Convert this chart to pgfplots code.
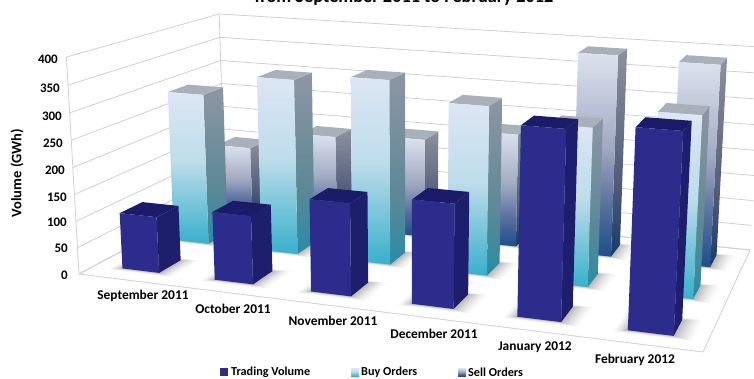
\documentclass[border=0pt]{standalone}
\usepackage{pgfplots}
\pgfplotsset{compat=1.18}
\usepackage{fontspec}
\setmainfont{Carlito}

\definecolor{gridc}{HTML}{CFCFCF}
\definecolor{tradeFront}{HTML}{2B2C8C}
\definecolor{tradeSide}{HTML}{1E1F6C}
\definecolor{tradeTop}{HTML}{1B1B6A}
\definecolor{lightTop}{HTML}{A9B0BA}
\definecolor{buyA}{RGB}{56,176,204}
\definecolor{buyB}{RGB}{128,200,220}
\definecolor{buyC}{RGB}{190,220,234}
\definecolor{buyD}{RGB}{222,230,244}
\definecolor{buySideA}{RGB}{40,140,165}
\definecolor{buySideB}{RGB}{90,136,150}
\definecolor{buySideC}{RGB}{142,150,163}
\definecolor{sellA}{RGB}{30,78,140}
\definecolor{sellB}{RGB}{90,112,160}
\definecolor{sellC}{RGB}{162,170,194}
\definecolor{sellD}{RGB}{220,226,238}
\definecolor{sellSideA}{RGB}{20,58,110}
\definecolor{sellSideB}{RGB}{80,90,120}
\definecolor{sellSideC}{RGB}{140,146,158}

% Face shadings: the stops from 25bp to 75bp span the height of a face
\pgfdeclareverticalshading{buyfront}{100bp}{
  color(0bp)=(buyA); color(25bp)=(buyA); color(40bp)=(buyB);
  color(52bp)=(buyC); color(75bp)=(buyD); color(100bp)=(buyD)}
\pgfdeclareverticalshading{buyside}{100bp}{
  color(0bp)=(buySideA); color(25bp)=(buySideA); color(42bp)=(buySideB);
  color(75bp)=(buySideC); color(100bp)=(buySideC)}
\pgfdeclareverticalshading{sellfront}{100bp}{
  color(0bp)=(sellA); color(25bp)=(sellA); color(38bp)=(sellB);
  color(52bp)=(sellC); color(75bp)=(sellD); color(100bp)=(sellD)}
\pgfdeclareverticalshading{sellside}{100bp}{
  color(0bp)=(sellSideA); color(25bp)=(sellSideA); color(42bp)=(sellSideB);
  color(75bp)=(sellSideC); color(100bp)=(sellSideC)}

% Perspective projection of a point of the chart box: u along the months,
% v along the rows and w up the volume scale, each from 0 to 1
\newcommand{\projpt}[4]{%
  \pgfmathsetmacro{\pden}{1-0.12933*(#2)+0.20015*(#3)-0.0365*(#4)}%
  \pgfmathsetmacro{\pxv}{(533.08*(#2)+191.03*(#3)-15*(#4)+79)/\pden}%
  \pgfmathsetmacro{\pyv}{(32.48*(#2)-38.77*(#3)-219*(#4)+274)/\pden}%
  \expandafter\xdef\csname chartpt#1\endcsname{(\pxv,\pyv)}%
}
\newcommand{\cpt}[1]{\csname chartpt#1\endcsname}
\newcommand{\face}[5]{%
  \edef\facecmd{\noexpand\addplot[\unexpanded{#1},forget plot]
    coordinates {\cpt{#2} \cpt{#3} \cpt{#4} \cpt{#5}} -- cycle;}%
  \facecmd
}
% Soft contact shadow on the floor around a bar foot
\newcommand{\shadowlayer}[4]{%
  \pgfmathsetmacro{\shL}{(#1+0.5)/6-0.0335-#3*0.8}%
  \pgfmathsetmacro{\shR}{(#1+0.5)/6+0.0335+#3*1.2}%
  \pgfmathsetmacro{\shF}{(#2+0.5)/3-0.07-#3*1.0}%
  \pgfmathsetmacro{\shB}{(#2+0.5)/3+0.07+#3*0.8}%
  \projpt{S1}{\shL}{\shF}{0}\projpt{S2}{\shR}{\shF}{0}%
  \projpt{S3}{\shR}{\shB}{0}\projpt{S4}{\shL}{\shB}{0}%
  \face{fill=black!70,fill opacity=#4,draw=none}{S1}{S2}{S3}{S4}%
}
\newcommand{\floorshadow}[2]{%
  \shadowlayer{#1}{#2}{0.024}{0.025}%
  \shadowlayer{#1}{#2}{0.021}{0.03}%
  \shadowlayer{#1}{#2}{0.018}{0.04}%
  \shadowlayer{#1}{#2}{0.015}{0.05}%
  \shadowlayer{#1}{#2}{0.012}{0.06}%
  \shadowlayer{#1}{#2}{0.009}{0.07}%
  \shadowlayer{#1}{#2}{0.006}{0.08}%
  \shadowlayer{#1}{#2}{0.003}{0.09}%
}
% One bar: month index, row index, value, then the fill options of the
% front, side and top faces
\newcommand{\chartbar}[6]{%
  \pgfmathsetmacro{\barL}{(#1+0.5)/6-0.0335}%
  \pgfmathsetmacro{\barR}{(#1+0.5)/6+0.0335}%
  \pgfmathsetmacro{\barF}{(#2+0.5)/3-0.07}%
  \pgfmathsetmacro{\barB}{(#2+0.5)/3+0.07}%
  \pgfmathsetmacro{\barT}{#3/400}%
  \projpt{A}{\barL}{\barF}{0}\projpt{B}{\barR}{\barF}{0}\projpt{C}{\barR}{\barB}{0}%
  \projpt{E}{\barL}{\barF}{\barT}\projpt{F}{\barR}{\barF}{\barT}\projpt{G}{\barR}{\barB}{\barT}\projpt{H}{\barL}{\barB}{\barT}%
  \face{#5,draw=none}{B}{C}{G}{F}%
  \face{#6,draw=none}{E}{F}{G}{H}%
  \face{#4,draw=none}{A}{B}{F}{E}%
}
\newcommand{\tradebar}[2]{\chartbar{#1}{0}{#2}{fill=tradeFront}{fill=tradeSide}{fill=tradeTop}}
\newcommand{\buybar}[2]{\chartbar{#1}{1}{#2}{shading=buyfront}{shading=buyside}{fill=lightTop}}
\newcommand{\sellbar}[2]{\chartbar{#1}{2}{#2}{shading=sellfront}{shading=sellside}{fill=lightTop}}
% Wall lines of one scale value with its number at the given place
\newcommand{\gridline}[3]{%
  \pgfmathsetmacro{\gw}{#1/400}%
  \projpt{A}{0}{0}{\gw}\projpt{B}{0}{1}{\gw}\projpt{C}{1}{1}{\gw}%
  \edef\gridcmd{\noexpand\addplot[gridc,line width=0.8pt,forget plot]
    coordinates {\cpt{A} \cpt{B} \cpt{C}};}%
  \gridcmd
  \node[anchor=east,font=\bfseries\fontsize{13}{14}\selectfont,inner sep=0pt]
    at (axis cs:#2,#3) {#1};
}

\begin{document}
\begin{tikzpicture}
\path[clip,use as bounding box] (0,0) rectangle (754pt,378pt);
\begin{axis}[
  at={(0,0)},anchor=south west,
  scale only axis,width=754pt,height=378pt,
  xmin=0,xmax=754,ymin=0,ymax=378,y dir=reverse,
  hide axis,clip=false,
]
  % Walls, floor outline and volume scale
  \gridline{0}{68}{275}\gridline{50}{68}{248}\gridline{100}{67}{222}
  \gridline{150}{67}{197}\gridline{200}{65}{170}\gridline{250}{63}{143}
  \gridline{300}{62}{116}\gridline{350}{60}{88}\gridline{400}{58}{59}
  \projpt{A}{0}{0}{0}\projpt{B}{1}{0}{0}\projpt{C}{1}{1}{0}\projpt{D}{0}{1}{0}
  \projpt{E}{0}{0}{1}\projpt{H}{0}{1}{1}
  \edef\edgecmd{\noexpand\addplot[gridc,line width=0.8pt,forget plot]
    coordinates {\cpt{E} \cpt{A} \cpt{B} \cpt{C} \cpt{D} \cpt{A}};}\edgecmd
  \edef\edgecmd{\noexpand\addplot[gridc,line width=0.8pt,forget plot]
    coordinates {\cpt{D} \cpt{H}};}\edgecmd

  % Sell Orders, back row
  \floorshadow{0}{2}\sellbar{0}{149}
  \floorshadow{1}{2}\sellbar{1}{188}
  \floorshadow{2}{2}\sellbar{2}{198}
  \floorshadow{3}{2}\sellbar{3}{224}
  \floorshadow{4}{2}\sellbar{4}{390}
  \floorshadow{5}{2}\sellbar{5}{385}
  % Buy Orders, middle row
  \floorshadow{0}{1}\buybar{0}{296}
  \floorshadow{1}{1}\buybar{1}{338}
  \floorshadow{2}{1}\buybar{2}{351}
  \floorshadow{3}{1}\buybar{3}{317}
  \floorshadow{4}{1}\buybar{4}{293}
  \floorshadow{5}{1}\buybar{5}{330}
  % Trading Volume, front row
  \floorshadow{0}{0}\tradebar{0}{106}
  \floorshadow{1}{0}\tradebar{1}{127}
  \floorshadow{2}{0}\tradebar{2}{169}
  \floorshadow{3}{0}\tradebar{3}{187}
  \floorshadow{4}{0}\tradebar{4}{331}
  \floorshadow{5}{0}\tradebar{5}{343}

  % Month names along the front edge
  \begin{scope}[every node/.style={font=\bfseries\fontsize{13.4}{14}\selectfont,inner sep=0pt,anchor=center}]
    \node at (axis cs:143,296) {September 2011};
    \node at (axis cs:233,309) {October 2011};
    \node at (axis cs:333,321) {November 2011};
    \node at (axis cs:434,334) {December 2011};
    \node at (axis cs:535,347) {January 2012};
    \node at (axis cs:635,360) {February 2012};
  \end{scope}

  % Title and axis name
  \node[anchor=base,font=\bfseries\fontsize{18.3}{19}\selectfont,inner sep=0pt] at (axis cs:404,2)
    {from September 2011 to February 2012};
  \node[rotate=90,font=\bfseries\fontsize{14.5}{15}\selectfont,inner sep=0pt] at (axis cs:17,173) {Volume (GWh)};

  % Legend
  \begin{scope}[every node/.style={font=\bfseries\fontsize{12.2}{13}\selectfont,inner sep=0pt,anchor=west}]
    \fill[tradeFront] (axis cs:220,368) rectangle (axis cs:228,376);
    \node at (axis cs:231,372) {Trading Volume};
    \shade[shading=buyfront] (axis cs:351,368) rectangle (axis cs:359,376);
    \node at (axis cs:361,372) {Buy Orders};
    \shade[shading=sellfront] (axis cs:458,368) rectangle (axis cs:466,376);
    \node at (axis cs:468,372) {Sell Orders};
  \end{scope}
\end{axis}
\end{tikzpicture}
\end{document}
